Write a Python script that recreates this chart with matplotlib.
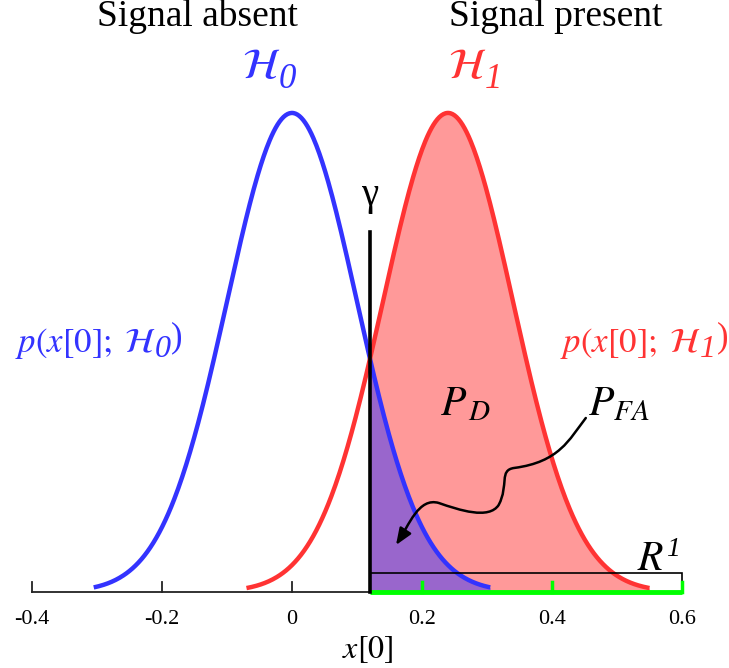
import numpy as np
import matplotlib
matplotlib.use("Agg")
import matplotlib.pyplot as plt
from matplotlib.path import Path
from matplotlib.patches import FancyArrowPatch, Rectangle

plt.rcParams['font.family'] = ['Liberation Serif', 'DejaVu Serif']
plt.rcParams['mathtext.fontset'] = 'stix'

# --- data ---
means = [0.0, 0.24]          # H0, H1
sigma = 0.1
half_spans = [0.305, 0.31]   # drawn extent of each curve around its mean
gamma = 0.12
tick_values = [-0.4, -0.2, 0.0, 0.2, 0.4, 0.6]
tick_labels = ['-0.4', '-0.2', '0', '0.2', '0.4', '0.6']
region_ticks = [0.2, 0.4, 0.6]
region_end = 0.6

BLUE = '#3333ff'
RED = '#ff3333'
RED_FILL = '#ff9999'
PURPLE = '#9966cc'
GREEN = '#00ff00'

fig = plt.figure(figsize=(7.29, 6.68), dpi=100)
ax = fig.add_axes([0, 0, 1, 1])
ax.set_xlim(-0.4492, 0.6723)
ax.set_ylim(-0.633, 4.93)
ax.axis('off')

def pdf(x, m):
    return np.exp(-0.5 * ((x - m) / sigma) ** 2) / (sigma * np.sqrt(2 * np.pi))

x0 = np.linspace(means[0] - half_spans[0], means[0] + half_spans[0], 400)
x1 = np.linspace(means[1] - half_spans[1], means[1] + half_spans[1], 400)
y0 = pdf(x0, means[0])
y1 = pdf(x1, means[1])

# fills
m1 = x1 >= gamma
ax.fill_between(x1[m1], 0, y1[m1], color=RED_FILL, lw=0, zorder=1)
m0 = x0 >= gamma
ax.fill_between(x0[m0], 0, y0[m0], color=PURPLE, lw=0, zorder=2)

# curves
ax.plot(x0, y0, color=BLUE, lw=3.2, zorder=4, solid_capstyle='butt')
ax.plot(x1, y1, color=RED, lw=3.2, zorder=4, solid_capstyle='butt')

# axis line + ticks
tick_h = 0.085
ax.plot([tick_values[0], tick_values[-1]], [0, 0], color='#222222', lw=1.3, zorder=3)
for t, lab in zip(tick_values, tick_labels):
    ax.plot([t, t], [0, tick_h], color='#222222', lw=1.3, zorder=3)
    ax.text(t, -0.265, lab, ha='center', va='baseline', fontsize=16)

# decision region R1
ax.add_patch(Rectangle((gamma, 0), region_end - gamma, 0.16, fill=False,
                       ec='black', lw=1.2, zorder=5))
ax.plot([gamma, region_end], [0, 0], color=GREEN, lw=3.5, zorder=6, solid_capstyle='butt')
for t in region_ticks:
    ax.plot([t, t], [0, tick_h], color=GREEN, lw=2.5, zorder=6)

# threshold
ax.plot([gamma, gamma], [0, 3.0], color='black', lw=2.6, zorder=7)
ax.text(gamma, 3.225, 'γ', ha='center', va='baseline', fontsize=28)


def chain(x, y, pieces, color='black'):
    """Place text pieces one after another on a common baseline (data y).
    pieces: list of (text, fontsize, italic, dy_points, dx_points)."""
    prev = None
    for txt, fs, it, dy, dx in pieces:
        style = 'italic' if it else 'normal'
        if prev is None:
            prev = ax.text(x, y, txt, ha='left', va='baseline', fontsize=fs,
                           style=style, color=color, zorder=9)
        else:
            prev = ax.annotate(txt, xy=(1.0, y), xycoords=(prev, 'data'),
                               xytext=(dx, dy), textcoords='offset points',
                               ha='left', va='baseline', fontsize=fs,
                               style=style, color=color, zorder=9)
    return prev

# labels
ax.text(-0.146, 4.79, 'Signal absent', ha='center', va='center', fontsize=27)
ax.text(0.405, 4.79, 'Signal present', ha='center', va='center', fontsize=27)

chain(-0.077, 4.28, [(r'$\mathcal{H}$', 31, False, 0, 0),
                     ('0', 25, True, -7, -1)], color=BLUE)
chain(0.240, 4.28, [(r'$\mathcal{H}$', 31, False, 0, 0),
                    ('1', 25, True, -7, -1)], color=RED)

chain(-0.426, 2.0, [(r'$p(x[0];\;\mathcal{H}$', 25, False, 0, 0),
                    ('0', 23, True, -4, -1),
                    (')', 25, False, 4, 0.5)], color=BLUE)
chain(0.413, 2.0, [(r'$p(x[0];\;\mathcal{H}$', 25, False, 0, 0),
                   ('1', 23, True, -4, -1),
                   (')', 25, False, 4, 0.5)], color=RED)

ax.text(0.228, 1.475, r'$P_{\,D}$', ha='left', va='baseline', fontsize=30)
ax.text(0.455, 1.475, r'$P_{FA}$', ha='left', va='baseline', fontsize=30)
chain(0.531, 0.183, [(r'$R$', 30, False, 0, 0),
                     ('1', 20, True, 10, 1)])
ax.text(0.077, -0.55, r'$x[0]$', ha='left', va='baseline', fontsize=23)

# wavy arrow from P_FA to the purple region
verts = [(0.452, 1.449),
         (0.426, 1.266), (0.411, 1.083), (0.342, 1.033),
         (0.318, 1.016), (0.334, 0.891), (0.318, 0.725),
         (0.303, 0.600), (0.257, 0.683), (0.226, 0.741),
         (0.195, 0.791), (0.180, 0.558), (0.160, 0.391)]
codes = [Path.MOVETO] + [Path.CURVE4] * 12
arrow = FancyArrowPatch(path=Path(verts, codes),
                        arrowstyle='-|>,head_length=10,head_width=4',
                        color='black', lw=1.8, zorder=8)
ax.add_patch(arrow)

fig.savefig('out.png', dpi=100)
